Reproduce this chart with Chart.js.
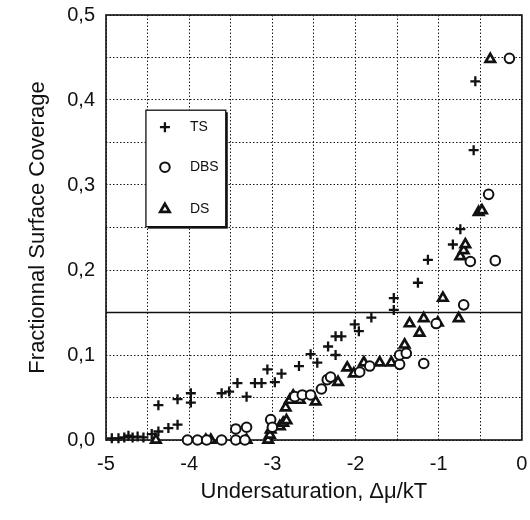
<!DOCTYPE html>
<html>
<head>
<meta charset="utf-8">
<script src="https://cdn.jsdelivr.net/npm/chart.js@4"></script>
<style>
  html, body { margin: 0; padding: 0; background: #fff; }
  #wrap { width: 530px; height: 520px; position: relative; }
</style>
</head>
<body>
<div id="wrap"><canvas id="c" width="530" height="520"></canvas></div>
<script>
// ---- data ----
const seriesNames = ["TS", "DBS", "DS"];

const tsX = [-4.93,-4.85,-4.78,-4.73,-4.68,-4.62,-4.55,-4.45,-4.37,-4.25,-4.14,
             -4.37,-4.14,-3.98,-3.98,-3.61,-3.52,-3.42,-3.31,-3.21,-3.13,-3.06,-2.97,-2.89,
             -2.68,-2.54,-2.46,-2.33,-2.24,-2.24,-2.17,-2.01,-1.96,-1.81,-1.54,-1.54,
             -1.25,-1.13,-0.83,-0.74,-0.58,-0.56];
const tsY = [0.002,0.002,0.003,0.005,0.003,0.004,0.003,0.007,0.010,0.014,0.018,
             0.041,0.048,0.055,0.044,0.055,0.057,0.067,0.051,0.067,0.067,0.083,0.068,0.078,
             0.087,0.101,0.091,0.110,0.100,0.122,0.122,0.136,0.128,0.144,0.167,0.153,
             0.185,0.212,0.230,0.248,0.341,0.422];

const dbsX = [-4.02,-3.90,-3.79,-3.61,-3.44,-3.44,-3.33,-3.31,-3.02,-3.00,
              -2.73,-2.64,-2.54,-2.41,-2.34,-2.30,-1.95,-1.83,-1.47,-1.47,-1.39,
              -1.18,-1.03,-0.70,-0.62,-0.32,-0.40,-0.15];
const dbsY = [0.000,0.000,0.000,0.000,0.000,0.013,0.000,0.015,0.024,0.015,
              0.051,0.053,0.053,0.060,0.071,0.074,0.080,0.087,0.089,0.100,0.102,
              0.090,0.137,0.159,0.210,0.211,0.289,0.449];

const dsX = [-4.40,-3.80,-3.74,-3.31,-3.05,-3.03,-3.02,-2.91,-2.87,-2.83,-2.84,-2.79,-2.75,
             -2.67,-2.48,-2.21,-2.10,-2.02,-1.90,-1.71,-1.57,-1.41,-1.35,-1.23,-1.18,
             -1.01,-0.95,-0.76,-0.74,-0.70,-0.68,-0.52,-0.48,-0.38];
const dsY = [0.000,0.000,0.000,0.000,0.000,0.006,0.012,0.016,0.020,0.023,0.038,0.047,0.052,
             0.047,0.045,0.068,0.085,0.078,0.091,0.091,0.091,0.112,0.137,0.126,0.143,
             0.138,0.167,0.143,0.216,0.223,0.230,0.268,0.270,0.448];

const xTickValues = [-5, -4, -3, -2, -1, 0];
const yTickValues = [0.0, 0.1, 0.2, 0.3, 0.4, 0.5];
const xTitle = "Undersaturation, \u0394\u03bc/kT";
const yTitle = "Fractionnal Surface Coverage";
const refLineY = 0.15;

// ---- build ----
const toPts = (xs, ys) => xs.map((x, i) => ({ x: x, y: ys[i] }));
const INK = '#111';
const FONT = "'Liberation Sans', Arial, Helvetica, sans-serif";

const styles = [
  { pointStyle: 'cross', pointRadius: 5, pointBorderWidth: 2.3, pointBackgroundColor: INK },
  { pointStyle: 'circle', pointRadius: 4.8, pointBorderWidth: 2, pointBackgroundColor: '#fff' },
  { pointStyle: 'triangle', pointRadius: 5.4, pointBorderWidth: 2.7, pointBackgroundColor: '#fff' }
];
const datas = [toPts(tsX, tsY), toPts(dbsX, dbsY), toPts(dsX, dsY)];

const datasets = seriesNames.map((n, i) => Object.assign({
  label: n,
  data: datas[i],
  borderColor: INK,
  pointBorderColor: INK,
  showLine: false,
  clip: false
}, styles[i]));

const frameAndLegend = {
  id: 'frameAndLegend',
  beforeDatasetsDraw(chart) {
    const { ctx, chartArea: a, scales } = chart;
    ctx.save();
    const yy = scales.y.getPixelForValue(refLineY);
    ctx.strokeStyle = INK; ctx.lineWidth = 1.3;
    ctx.beginPath(); ctx.moveTo(a.left, yy); ctx.lineTo(a.right, yy); ctx.stroke();
    ctx.lineWidth = 1.6;
    ctx.strokeRect(a.left, a.top, a.right - a.left, a.bottom - a.top);
    ctx.restore();
  },
  afterDatasetsDraw(chart) {
    const { ctx, scales } = chart;
    const x0 = scales.x.getPixelForValue(-4.52), x1 = scales.x.getPixelForValue(-3.56);
    const y0 = scales.y.getPixelForValue(0.388), y1 = scales.y.getPixelForValue(0.251);
    ctx.save();
    ctx.fillStyle = INK;
    ctx.fillRect(x0 + 2, y0 + 2, x1 - x0, y1 - y0);
    ctx.fillStyle = '#fff';
    ctx.fillRect(x0, y0, x1 - x0, y1 - y0);
    ctx.strokeStyle = INK; ctx.lineWidth = 1.3;
    ctx.strokeRect(x0, y0, x1 - x0, y1 - y0);
    const rows = [y0 + 17, y0 + 57, y0 + 99];
    chart.data.datasets.forEach((ds, i) => {
      const mx = x0 + 19, my = rows[i];
      ctx.strokeStyle = INK;
      ctx.fillStyle = ds.pointBackgroundColor;
      ctx.lineWidth = ds.pointBorderWidth;
      Chart.helpers.drawPoint(ctx, { pointStyle: ds.pointStyle, radius: ds.pointRadius, rotation: 0, borderWidth: ds.pointBorderWidth }, mx, my);
      ctx.fillStyle = INK;
      ctx.font = "14px " + FONT;
      ctx.textBaseline = 'middle';
      ctx.textAlign = 'left';
      ctx.fillText(ds.label, x0 + 44, my);
    });
    ctx.restore();
  }
};

new Chart(document.getElementById('c'), {
  type: 'scatter',
  data: { datasets: datasets },
  options: {
    responsive: false,
    animation: false,
    devicePixelRatio: 1,
    layout: { padding: { top: 15, right: 3, left: 0, bottom: 0 } },
    plugins: { legend: { display: false }, tooltip: { enabled: false } },
    scales: {
      x: {
        type: 'linear', min: -5, max: 0,
        afterBuildTicks: (s) => { s.ticks = []; for (let k = 0; k <= 10; k++) s.ticks.push({ value: -5 + k * 0.5 }); },
        afterFit: (s) => { s.height = 80; s.paddingLeft = 0; s.paddingRight = 0; },
        grid: { color: '#1a1a1a', lineWidth: 1, drawTicks: false },
        border: { display: false, dash: [1.5, 2] },
        ticks: {
          autoSkip: false, maxRotation: 0, padding: 12, color: INK,
          font: { family: FONT, size: 20 },
          callback: (v) => xTickValues.some(t => Math.abs(t - v) < 1e-9) ? String(Math.round(v) === 0 ? 0 : Math.round(v)) : ''
        },
        title: { display: true, text: xTitle, color: INK, font: { family: FONT, size: 22 }, padding: { top: 0, bottom: 15 } }
      },
      y: {
        type: 'linear', min: 0, max: 0.5,
        afterBuildTicks: (s) => { s.ticks = []; for (let k = 0; k <= 10; k++) s.ticks.push({ value: k * 0.05 }); },
        afterFit: (s) => { s.width = 106; s.paddingTop = 0; s.paddingBottom = 0; },
        grid: { color: '#1a1a1a', lineWidth: 1, drawTicks: false },
        border: { display: false, dash: [1.5, 2] },
        ticks: {
          autoSkip: false, padding: 11, color: INK,
          font: { family: FONT, size: 20 },
          callback: (v) => yTickValues.some(t => Math.abs(t - v) < 1e-9) ? v.toFixed(1).replace('.', ',') : ''
        },
        title: { display: true, text: yTitle, color: INK, font: { family: FONT, size: 22 }, padding: { top: 25, bottom: 0 } }
      }
    }
  },
  plugins: [frameAndLegend]
});
</script>
</body>
</html>
